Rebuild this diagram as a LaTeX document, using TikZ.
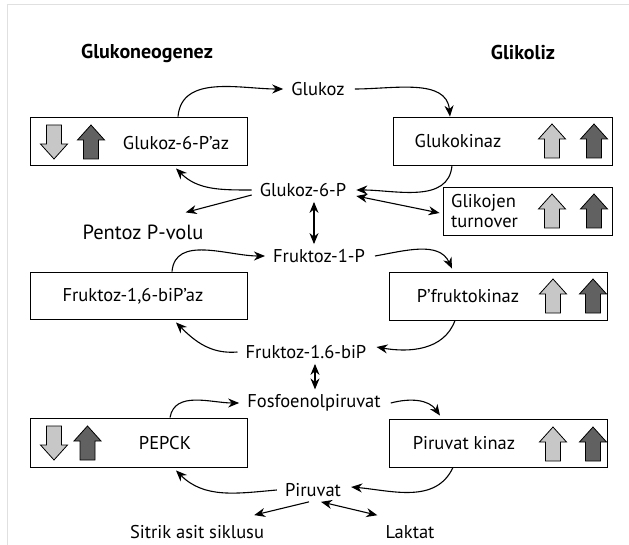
\documentclass[tikz,border=0pt]{standalone}
\usepackage{fontspec}
\setmainfont{PT Sans}
\usetikzlibrary{arrows.meta}
\begin{document}
\begin{tikzpicture}[x=1pt,y=-1pt,
  lbl/.style={inner sep=0pt,font=\fontsize{18.5}{20}\selectfont},
  head/.style={inner sep=0pt,font=\fontsize{20}{22}\selectfont\bfseries},
  box/.style={draw,line width=0.9pt,minimum height=48pt,inner sep=0pt},
  arr/.style={line width=1.1pt,-{Stealth[length=11pt,width=9pt]}},
  darr/.style={line width=1.1pt,{Stealth[length=11pt,width=9pt]}-{Stealth[length=11pt,width=9pt]}},
  light/.style={fill=black!22},
  dark/.style={fill=black!62},
  uparr/.pic={\draw[line width=0.8pt,pic actions] (0,-17)--(13.5,-2)--(7.5,-2)--(7.5,17)--(-7.5,17)--(-7.5,-2)--(-13.5,-2)--cycle;},
  downarr/.pic={\draw[line width=0.8pt,pic actions] (0,17)--(13.5,2)--(7.5,2)--(7.5,-17)--(-7.5,-17)--(-7.5,2)--(-13.5,2)--cycle;}
]
\useasboundingbox (0,0) rectangle (629,545);
\draw[black!12,line width=1pt] (7,545) -- (7,5) -- (629,5);

% headings
\node[head] (hgn) at (147,53) {Glukoneogenez};
\node[head] (hgl) at (523,53) {Glikoliz};

% boxes
\node[box,minimum width=217pt] (b1) at (138.5,141) {};
\node[box,minimum width=219pt] (b2) at (502.5,141) {};
\node[box,minimum width=169pt] (b3) at (527.5,211) {};
\node[box,minimum width=217pt,minimum height=47pt] (b4) at (138.5,295.5) {};
\node[box,minimum width=218pt] (b5) at (498,296) {};
\node[box,minimum width=217pt,minimum height=49pt] (b6) at (138.5,442.5) {};
\node[box,minimum width=218pt] (b7) at (498,443) {};

% box texts
\node[lbl] (t1) at (176,143) {Glukoz-6-P’az};
\node[lbl] (t2) at (458,141) {Glukokinaz};
\node[lbl,align=left,anchor=west,font=\fontsize{18.5}{20}\selectfont] (t3) at (451,211) {Glikojen\\turnover};
\node[lbl] (t4) at (133,296) {Fruktoz-1,6-biP’az};
\node[lbl] (t5) at (468,296) {P’fruktokinaz};
\node[lbl] (t6) at (165,443) {PEPCK};
\node[lbl] (t7) at (464,443) {Piruvat kinaz};

% block arrows
\pic[light] at (54,142) {downarr};
\pic[dark] at (91,142) {uparr};
\pic[light] at (552,141) {uparr};
\pic[dark] at (594,141) {uparr};
\pic[light] at (552,211) {uparr};
\pic[dark] at (594,211) {uparr};
\pic[light] at (553,296) {uparr};
\pic[dark] at (593,296) {uparr};
\pic[light] at (54,443) {downarr};
\pic[dark] at (87.5,443) {uparr};
\pic[light] at (553,444) {uparr};
\pic[dark] at (593,444) {uparr};

% metabolites
\node[lbl] (glc) at (318,89) {Glukoz};
\node[lbl] (g6p) at (303,190) {Glukoz-6-P};
\node[lbl,font=\fontsize{20.5}{22}\selectfont] (pent) at (143,232) {Pentoz P-volu};
\node[lbl] (f1p) at (319,256) {Fruktoz-1-P};
\node[lbl] (f16) at (306,352) {Fruktoz-1.6-biP};
\node[lbl] (pep) at (314,403) {Fosfoenolpiruvat};
\node[lbl] (pyr) at (313,490) {Piruvat};
\node[lbl] (cit) at (197,532) {Sitrik asit siklusu};
\node[lbl] (lac) at (410,532) {Laktat};

% connectors
\draw[arr] ([xshift=39.5pt]b1.north) to[out=85,in=180] ([xshift=-8pt]glc.west);
\draw[arr] ([xshift=10pt]glc.east) to[out=0,in=95] ([xshift=-52.5pt]b2.north);
\draw[arr] ([xshift=-50.5pt]b2.south) to[out=265,in=0] ([xshift=10pt]g6p.east);
\draw[arr] ([xshift=-8pt]g6p.west) to[out=180,in=-45] ([xshift=37.5pt,yshift=-3pt]b1.south);
\draw[arr] ([xshift=-8pt,yshift=-5pt]g6p.west) -- ([xshift=-18pt,yshift=12pt]pent.north east);
\draw[darr] ([xshift=10pt,yshift=-6pt]g6p.east) -- ([xshift=-3pt,yshift=-2pt]b3.west);
\draw[darr] ([xshift=11pt,yshift=-5pt]g6p.south) -- ([xshift=-5pt,yshift=5pt]f1p.north);

\draw[arr] ([xshift=33.5pt]b4.north) to[out=85,in=180] ([xshift=-8pt]f1p.west);
\draw[arr] ([xshift=10pt]f1p.east) to[out=10,in=115] ([xshift=-46pt,yshift=3pt]b5.north);
\draw[arr] ([xshift=-43pt]b5.south) to[out=250,in=-10] ([xshift=10pt,yshift=5pt]f16.east);
\draw[arr] ([xshift=-8pt]f16.west) to[out=185,in=-45] ([xshift=37.5pt,yshift=-3pt]b4.south);
\draw[darr] ([xshift=9pt,yshift=-5pt]f16.south) -- ([xshift=1pt,yshift=5pt]pep.north);

\draw[arr] ([xshift=31.5pt]b6.north) to[out=80,in=180] ([xshift=-8pt]pep.west);
\draw[arr] ([xshift=10pt]pep.east) to[out=15,in=125] ([xshift=-58pt,yshift=3pt]b7.north);
\draw[arr] ([xshift=-45pt]b7.south) to[out=245,in=-5] ([xshift=10pt,yshift=3pt]pyr.east);
\draw[arr] ([xshift=-8pt]pyr.west) to[out=185,in=-45] ([xshift=37.5pt,yshift=-3pt]b6.south);
\draw[arr] ([xshift=-4pt,yshift=-5pt]pyr.south) -- ([xshift=-10pt,yshift=10pt]cit.north east);
\draw[darr] ([xshift=8pt,yshift=-5pt]pyr.south) -- ([xshift=-8pt,yshift=10pt]lac.north west);
\end{tikzpicture}
\end{document}
